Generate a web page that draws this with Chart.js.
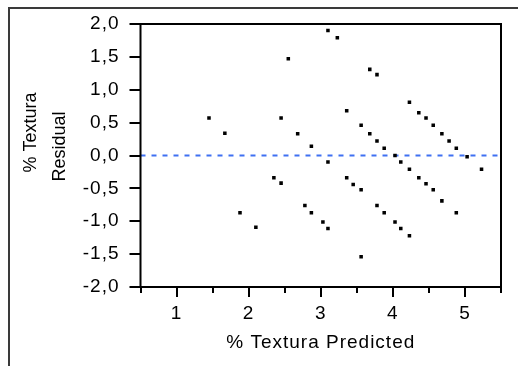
<!DOCTYPE html>
<html>
<head>
<meta charset="utf-8">
<script src="https://cdn.jsdelivr.net/npm/chart.js@4.4.1/dist/chart.umd.min.js"></script>
<style>
    html, body { margin: 0; padding: 0; background: #fff; }
    #wrap { position: relative; width: 518px; height: 366px; overflow: hidden; }
    #frame {
        position: absolute; left: 8px; top: 7px; width: 700px; height: 500px;
        border-left: 2px solid #3a3a3a; border-top: 2px solid #3a3a3a;
    }
    canvas { position: absolute; left: 0; top: 0; }
</style>
</head>
<body>
<div id="wrap">
    <div id="frame"></div>
    <canvas id="residualChart" width="518" height="366"></canvas>
</div>
<script>
// % Textura: predicted value vs residual
const predicted = [
    1.45, 1.67, 1.88, 2.10, 2.35, 2.45, 2.45, 2.55, 2.68, 2.78,
    2.87, 2.87, 3.03, 3.10, 3.10, 3.10, 3.23, 3.36, 3.36, 3.45,
    3.56, 3.56, 3.56, 3.68, 3.68, 3.78, 3.78, 3.78, 3.88, 3.88,
    4.03, 4.03, 4.11, 4.11, 4.23, 4.23, 4.23, 4.36, 4.36, 4.46,
    4.46, 4.56, 4.56, 4.68, 4.68, 4.78, 4.88, 4.88, 5.03, 5.23,
];
const residual = [
    0.57, 0.34, -0.87, -1.09, -0.34, 0.57, -0.42, 1.47, 0.33, -0.76,
    0.14, -0.87, -1.01, 1.90, -0.10, -1.11, 1.79, 0.68, -0.34, -0.44,
    0.46, -0.52, -1.54, 1.31, 0.33, 1.23, 0.22, -0.76, 0.11, -0.87,
    0.00, -1.01, -0.10, -1.11, 0.81, -0.21, -1.22, 0.65, -0.34, 0.57,
    -0.43, 0.46, -0.52, 0.33, -0.69, 0.22, 0.11, -0.87, -0.02, -0.21,
];
const xRange = [0.5, 5.5];
const yRange = [-2.0, 2.0];
const xMajorTicks = [1, 2, 3, 4, 5];
const xMinorTicks = [0.5, 1.5, 2.5, 3.5, 4.5, 5.5];
const yTickStep = 0.5;
const zeroLine = [0, 0];
const yTitleLines = ['% Textura', 'Residual'];

const FAMILY = '"Liberation Sans", Arial, sans-serif';
const FONT = { family: FAMILY, size: 19 };

// the original text renders a bit wide, like hinted GDI text
const wideText = {
    id: 'wideText',
    beforeLayout(chart) { chart.ctx.letterSpacing = '1px'; },
    beforeDraw(chart) { chart.ctx.letterSpacing = '1px'; },
};

// frame around the plot area, outside tick marks and the two-line y title
const axisFrame = {
    id: 'axisFrame',
    afterDatasetsDraw(chart) {
        const { ctx, chartArea: a, scales: { x, y } } = chart;
        ctx.save();
        ctx.strokeStyle = '#000';
        ctx.lineWidth = 2;
        ctx.strokeRect(a.left, a.top, a.right - a.left, a.bottom - a.top);
        ctx.beginPath();
        for (let v = yRange[0]; v <= yRange[1] + 1e-9; v += yTickStep) {
            const py = Math.round(y.getPixelForValue(v));
            ctx.moveTo(a.left - 11, py);
            ctx.lineTo(a.left, py);
        }
        xMajorTicks.forEach((v) => {
            const px = Math.round(x.getPixelForValue(v));
            ctx.moveTo(px, a.bottom);
            ctx.lineTo(px, a.bottom + 10);
        });
        xMinorTicks.forEach((v) => {
            const px = Math.round(x.getPixelForValue(v));
            ctx.moveTo(px, a.bottom);
            ctx.lineTo(px, a.bottom + 6);
        });
        ctx.stroke();

        ctx.letterSpacing = '0px';
        ctx.fillStyle = '#000';
        ctx.font = `18px ${FAMILY}`;
        ctx.textAlign = 'center';
        ctx.textBaseline = 'middle';
        const mid = (a.top + a.bottom) / 2;
        [[31, mid - 23], [60, mid - 9]].forEach(([tx, ty], i) => {
            ctx.save();
            ctx.translate(tx, ty);
            ctx.rotate(-Math.PI / 2);
            ctx.fillText(yTitleLines[i], 0, 0);
            ctx.restore();
        });
        ctx.restore();
    },
};

new Chart(document.getElementById('residualChart').getContext('2d'), {
    type: 'scatter',
    data: {
        datasets: [
            {
                label: 'Residual',
                data: predicted.map((p, i) => ({ x: p, y: residual[i] })),
                pointStyle: 'rect',
                pointRadius: 2.5,
                pointBackgroundColor: '#000',
                pointBorderWidth: 0,
            },
            {
                type: 'line',
                label: 'Zero',
                data: xRange.map((v, i) => ({ x: v, y: zeroLine[i] })),
                borderColor: '#3f70f2',
                borderWidth: 2,
                borderDash: [5, 6],
                pointRadius: 0,
                fill: false,
            },
        ],
    },
    options: {
        responsive: false,
        animation: false,
        layout: { padding: { top: 24, right: 17, left: 0, bottom: 0 } },
        plugins: { legend: { display: false }, tooltip: { enabled: false } },
        scales: {
            x: {
                type: 'linear',
                min: xRange[0],
                max: xRange[1],
                afterFit: (s) => { s.height = 79; },
                grid: { display: false, drawTicks: true, tickLength: 10 },
                border: { display: false },
                ticks: {
                    stepSize: 0.5,
                    autoSkip: false,
                    maxRotation: 0,
                    padding: 5,
                    color: '#000',
                    font: FONT,
                    callback: (v) => (Number.isInteger(v) ? String(v) : ''),
                },
                title: {
                    display: true,
                    text: '% Textura Predicted',
                    color: '#000',
                    font: FONT,
                    padding: { top: 0, bottom: 12 },
                },
            },
            y: {
                min: yRange[0],
                max: yRange[1],
                afterFit: (s) => { s.width = 140.5; },
                grid: { display: false, drawTicks: true, tickLength: 11 },
                border: { display: false },
                ticks: {
                    stepSize: yTickStep,
                    padding: 10,
                    color: '#000',
                    font: FONT,
                    callback: (v) => v.toFixed(1).replace('.', ','),
                },
                title: { display: false },
            },
        },
    },
    plugins: [wideText, axisFrame],
});
</script>
</body>
</html>
